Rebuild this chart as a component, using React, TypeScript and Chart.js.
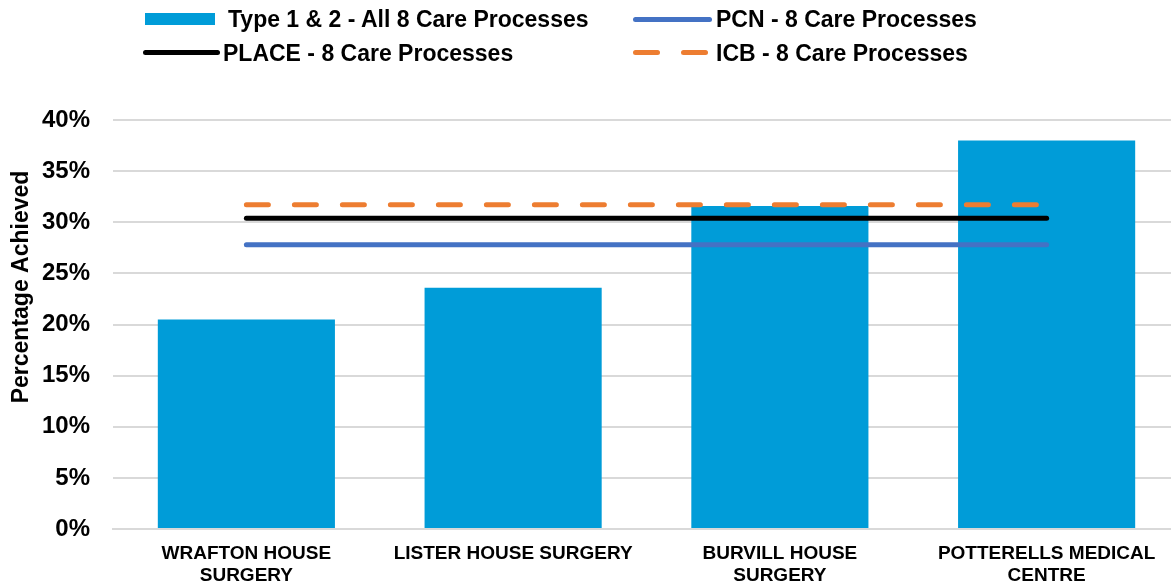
import React, { useEffect, useRef } from "react";
import { Chart, registerables } from "chart.js";

Chart.register(...registerables);

const categories: string[][] = [
  ["WRAFTON HOUSE", "SURGERY"],
  ["LISTER HOUSE SURGERY"],
  ["BURVILL HOUSE", "SURGERY"],
  ["POTTERELLS MEDICAL", "CENTRE"],
];
const practiceValues = [20.5, 23.6, 31.6, 38.0];
const pcnValues = [27.8, 27.8, 27.8, 27.8];
const placeValues = [30.4, 30.4, 30.4, 30.4];
const icbValues = [31.7, 31.7, 31.7, 31.7];
const yTicks = [0, 5, 10, 15, 20, 25, 30, 35, 40];
const yTitle = "Percentage Achieved";

const BAR_COLOR = "#009CD8";
const PCN_COLOR = "#4472C4";
const PLACE_COLOR = "#000000";
const ICB_COLOR = "#ED7D31";
const FONT = "'Liberation Sans', Arial, sans-serif";

const yTitlePlugin = {
  id: "yTitlePlugin",
  afterDraw(chart: any) {
    const ctx = chart.ctx;
    ctx.save();
    ctx.translate(22, 287);
    ctx.rotate(-Math.PI / 2);
    ctx.font = `bold 23px ${FONT}`;
    ctx.fillStyle = "#000";
    ctx.textAlign = "center";
    ctx.textBaseline = "middle";
    ctx.fillText(yTitle, 0, 0);
    ctx.restore();
  },
};

export default function App() {
  const ref = useRef<HTMLCanvasElement>(null);

  useEffect(() => {
    document.body.style.margin = "0";
    document.body.style.overflow = "hidden";
    const chart = new Chart(ref.current!, {
      type: "bar",
      data: {
        labels: categories,
        datasets: [
          {
            type: "bar",
            label: "Type 1 & 2 - All 8 Care Processes",
            data: practiceValues,
            backgroundColor: BAR_COLOR,
            categoryPercentage: 1,
            barPercentage: 0.664,
            order: 1,
          },
          {
            type: "line",
            label: "PCN - 8 Care Processes",
            data: pcnValues,
            borderColor: PCN_COLOR,
            borderWidth: 5,
            borderCapStyle: "round",
            pointRadius: 0,
            order: 0,
          },
          {
            type: "line",
            label: "PLACE - 8 Care Processes",
            data: placeValues,
            borderColor: PLACE_COLOR,
            borderWidth: 5,
            borderCapStyle: "round",
            pointRadius: 0,
            order: 0,
          },
          {
            type: "line",
            label: "ICB - 8 Care Processes",
            data: icbValues,
            borderColor: ICB_COLOR,
            borderWidth: 5,
            borderCapStyle: "round",
            borderDash: [22, 26],
            pointRadius: 0,
            order: 0,
          },
        ] as any,
      },
      options: {
        responsive: false,
        animation: false,
        layout: { padding: { top: 120, left: 0, right: 0, bottom: 0 } },
        plugins: {
          legend: { display: false },
          tooltip: { enabled: false },
        },
        scales: {
          x: {
            grid: { display: false, drawTicks: false },
            border: { display: true, color: "#d9d9d9", width: 2 },
            ticks: {
              color: "#000",
              font: { family: FONT, size: 19, weight: "bold", lineHeight: 1.2 },
              padding: 13,
              maxRotation: 0,
              autoSkip: false,
            },
            afterFit: (s: any) => {
              s.height = 57;
            },
          },
          y: {
            min: 0,
            max: 40,
            afterBuildTicks: (s: any) => {
              s.ticks = yTicks.map((v) => ({ value: v }));
            },
            grid: { color: "#d9d9d9", lineWidth: 2, drawTicks: false },
            border: { display: false },
            ticks: {
              color: "#000",
              font: { family: FONT, size: 24, weight: "bold" },
              padding: 23,
              callback: (v: any) => v + "%",
            },
            afterFit: (s: any) => {
              s.width = 113;
            },
          },
        },
      },
      plugins: [yTitlePlugin],
    });
    return () => chart.destroy();
  }, []);

  const legendText: React.CSSProperties = {
    position: "absolute",
    fontFamily: FONT,
    fontWeight: "bold",
    fontSize: 23,
    color: "#000",
    lineHeight: "24px",
    whiteSpace: "nowrap",
  };

  return (
    <div style={{ position: "relative", width: 1171, height: 586, overflow: "hidden", background: "#fff" }}>
      <canvas ref={ref} width={1180} height={586} style={{ position: "absolute", left: 0, top: 0 }} />
      <div style={{ position: "absolute", left: 145, top: 13, width: 70, height: 12, background: BAR_COLOR }} />
      <div style={{ ...legendText, left: 228, top: 7 }}>Type 1 &amp; 2 - All 8 Care Processes</div>
      <div style={{ position: "absolute", left: 633, top: 17, width: 79, height: 5, borderRadius: 3, background: PCN_COLOR }} />
      <div style={{ ...legendText, left: 716, top: 7 }}>PCN - 8 Care Processes</div>
      <div style={{ position: "absolute", left: 143, top: 50, width: 77, height: 5, borderRadius: 3, background: PLACE_COLOR }} />
      <div style={{ ...legendText, left: 223, top: 41 }}>PLACE - 8 Care Processes</div>
      <div style={{ position: "absolute", left: 633, top: 50, width: 27, height: 5, borderRadius: 3, background: ICB_COLOR }} />
      <div style={{ position: "absolute", left: 681, top: 50, width: 27, height: 5, borderRadius: 3, background: ICB_COLOR }} />
      <div style={{ ...legendText, left: 716, top: 41 }}>ICB - 8 Care Processes</div>
    </div>
  );
}
